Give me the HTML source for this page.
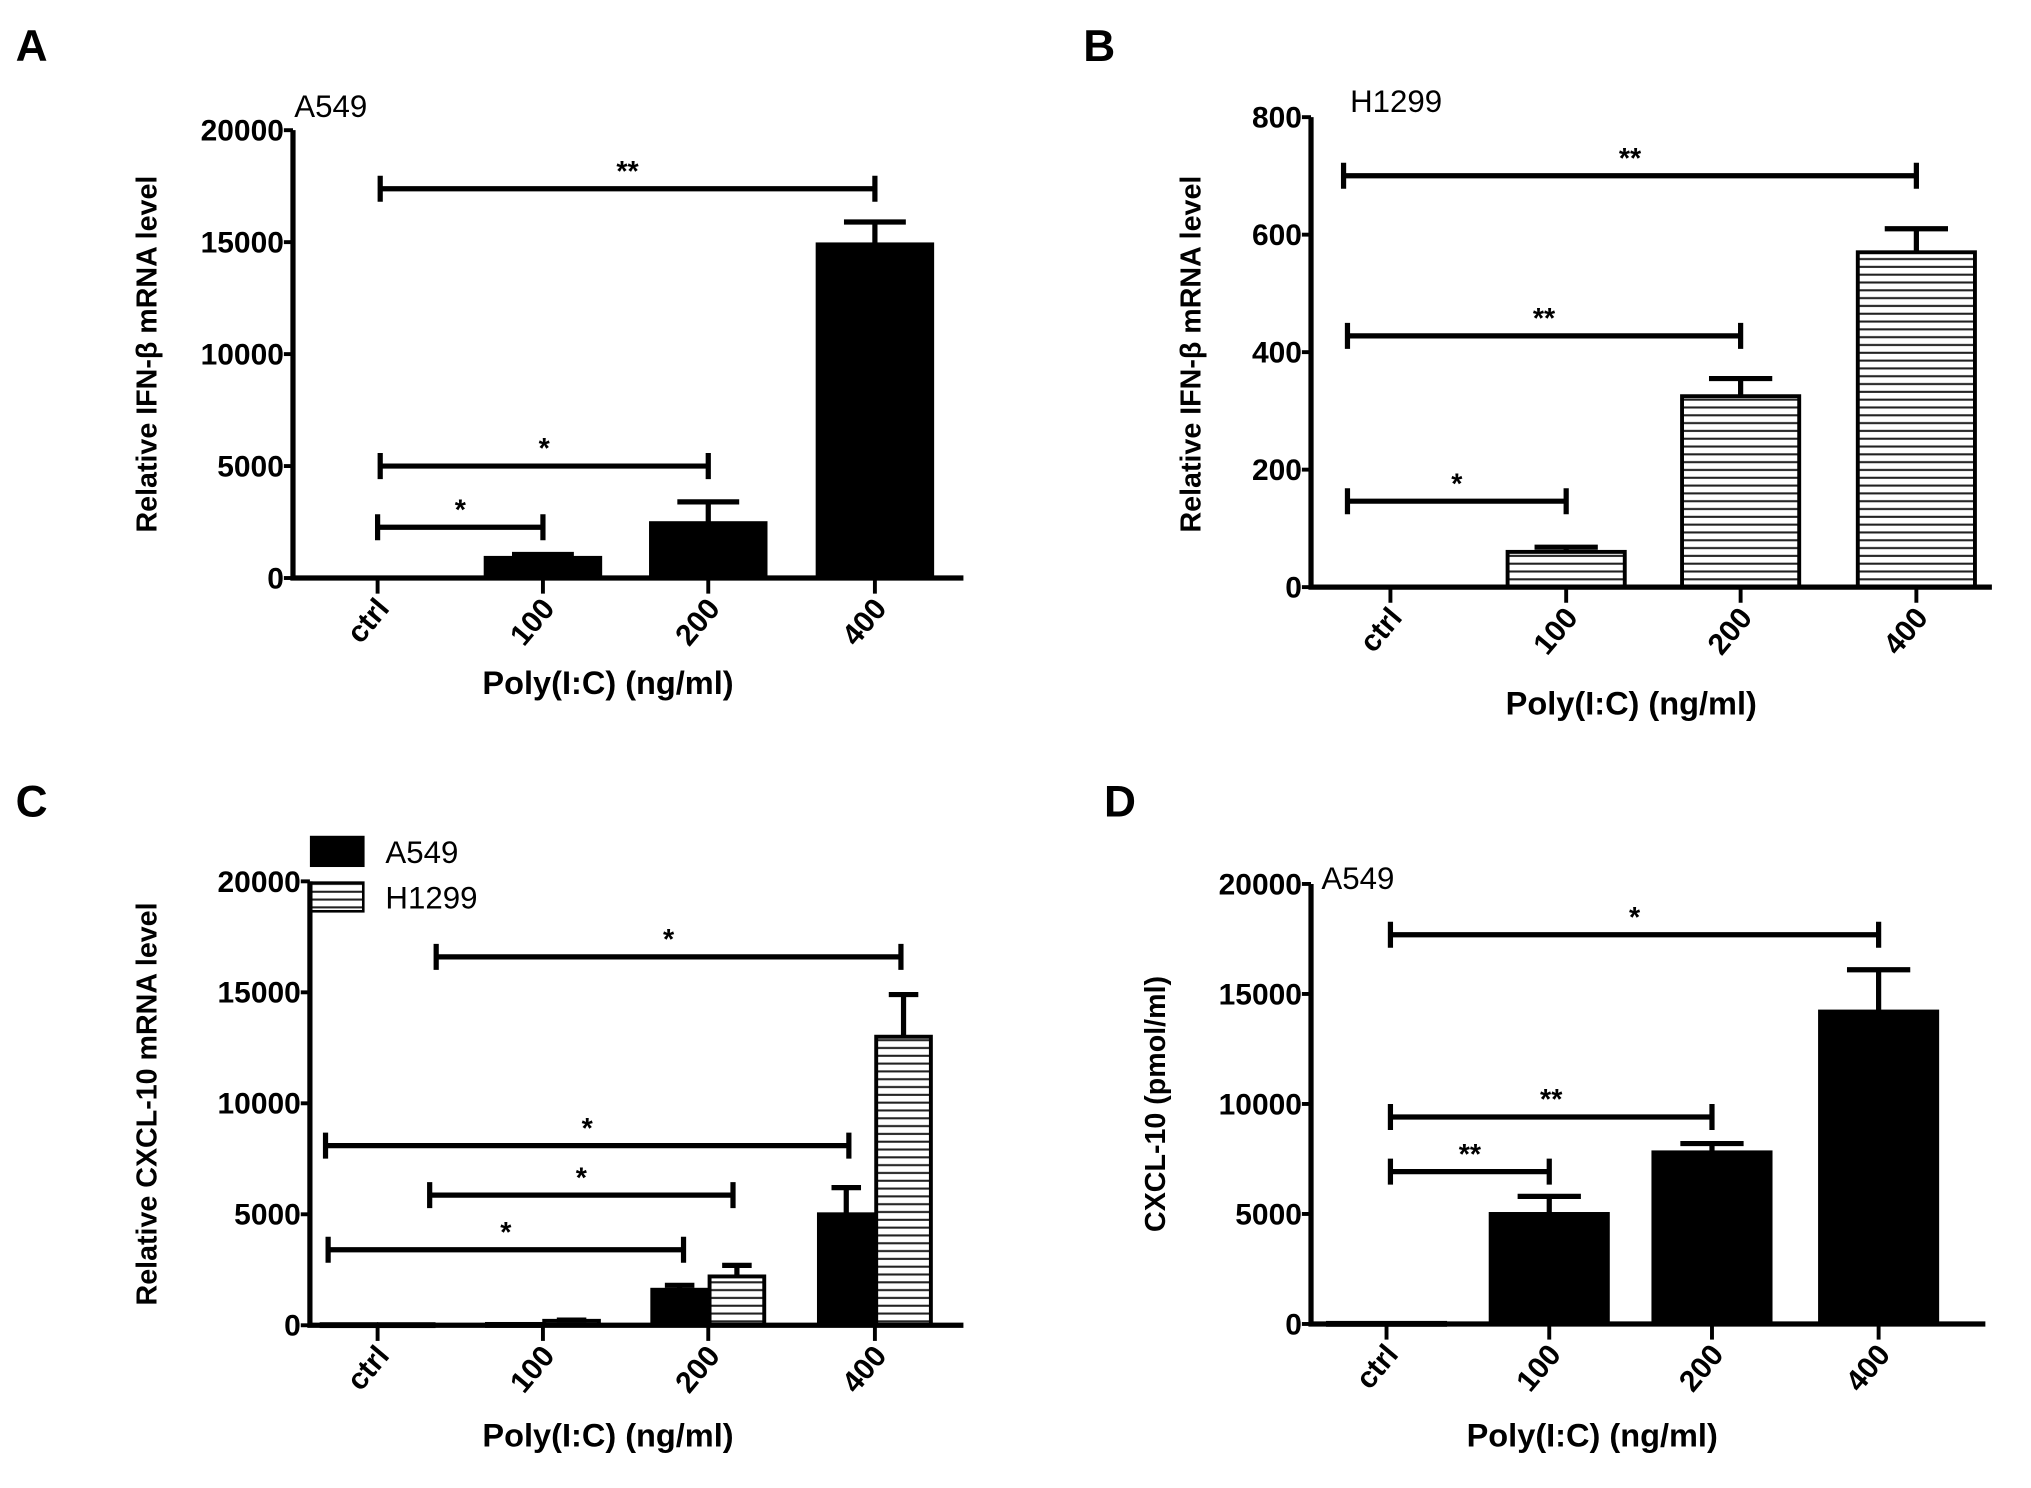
<!DOCTYPE html>
<html><head><meta charset="utf-8"><style>
html,body{margin:0;padding:0;background:#fff}
svg{display:block;font-family:"Liberation Sans",Arial,sans-serif}
</style></head><body>
<svg id="fig" width="2031" height="1488" viewBox="0 0 1560 1143" xmlns="http://www.w3.org/2000/svg">
<defs>
<pattern id="hatch" width="8" height="6" patternUnits="userSpaceOnUse">
<rect width="8" height="6" fill="#fff"/><line x1="0" y1="1" x2="8" y2="1" stroke="#222" stroke-width="1.6"/>
</pattern>
</defs>
</svg>
<script>
const categories = ["ctrl","100","200","400"];
const aValues = [0, 900, 2450, 14900];
const aErrors = [0, 150, 950, 1000];
const bValues = [0, 60, 325, 570];
const bErrors = [0, 8, 30, 40];
const cA549 = [50, 60, 1600, 5000];
const cA549Err = [0, 0, 200, 1200];
const cH1299 = [50, 200, 2200, 13000];
const cH1299Err = [0, 30, 500, 1900];
const dValues = [50, 5000, 7800, 14200];
const dErrors = [0, 800, 400, 1900];
const ticksA = [0,5000,10000,15000,20000];
const ticksB = [0,200,400,600,800];

const svg = document.getElementById('fig');
const NS = 'http://www.w3.org/2000/svg';
function mk(tag, attrs, parent){const e=document.createElementNS(NS,tag);for(const k in attrs)e.setAttribute(k,attrs[k]);(parent||svg).appendChild(e);return e;}
function txt(s, attrs, parent){const e=mk('text',attrs,parent);e.textContent=s;return e;}

function panel(cfg){
  const g = mk('g',{});
  
  
  const y = v => cfg.y0 - (v/cfg.max)*(cfg.y0-cfg.yTop);
  const L = txt(cfg.letter,{x:cfg.letterX,y:cfg.letterY,'font-size':34,'font-weight':'bold'},g);
  
  
  if(cfg.cell){const c=txt(cfg.cell,{x:cfg.cellX,y:cfg.cellY,'font-size':24},g);
    
    }
  cfg.series.forEach(s=>{
    s.values.forEach((v,i)=>{
      if(v<=0) return;
      const cx = cfg.xs[i] + s.off;
      const x0 = cx - s.w/2, top=y(v);
      const r = mk('rect',{x:x0,y:top,width:s.w,height:Math.max(cfg.y0-top,1.5),fill:s.fill,stroke:'#000','stroke-width':3},g);
      
      
      const e = s.errs[i];
      if(e>0){
        const ey=y(v+e);
        const eb = mk('path',{d:`M${cx} ${top} V${ey} M${cx-s.w*0.27} ${ey} H${cx+s.w*0.27}`,stroke:'#000','stroke-width':4,fill:'none'},g);
        
        
      }
    });
  });
  const ax = mk('path',{d:`M${cfg.x0} ${cfg.yTop} V${cfg.y0} H${cfg.xEnd}`,stroke:'#000','stroke-width':4,fill:'none'},g);
  
  
  cfg.ticks.forEach(t=>{
    const ty=y(t);
    mk('line',{x1:cfg.x0-7,y1:ty,x2:cfg.x0,y2:ty,stroke:'#000','stroke-width':3},g);
    const tl=txt(String(t),{x:cfg.x0-7,y:ty+8,'font-size':23,'font-weight':'bold','text-anchor':'end'},g);
    
    
  });
  categories.forEach((c,i)=>{
    const tx=cfg.xs[i];
    mk('line',{x1:tx,y1:cfg.y0,x2:tx,y2:cfg.y0+12,stroke:'#000','stroke-width':3},g);
    const tl=txt(c,{x:0,y:0,'font-size':23,'font-weight':'bold','text-anchor':'end',transform:`translate(${tx+10},${cfg.y0+24}) rotate(-50)`},g);
    
    
  });
  const yt=txt(cfg.ylabel,{x:0,y:0,'font-size':22,'font-weight':'bold','text-anchor':'middle',transform:`translate(${cfg.ylx},${cfg.yly}) rotate(-90)`},g);
  
  
  const xt=txt('Poly(I:C) (ng/ml)',{x:cfg.xtx,y:cfg.xty,'font-size':25,'font-weight':'bold','text-anchor':'middle'},g);
  
  
  cfg.sig.forEach(s=>{
    const [x1,x2,sy,label]=s;
    const p=mk('path',{d:`M${x1} ${sy-10} V${sy+10} M${x1} ${sy} H${x2} M${x2} ${sy-10} V${sy+10}`,stroke:'#000','stroke-width':4,fill:'none'},g);
    
    
    const st=txt(label,{x:(x1+x2)/2,y:sy-6,'font-size':22,'font-weight':'bold','text-anchor':'middle'},g);
    
    
  });
  return g;
}

panel({name:'panel-a',letter:'A',letterX:12,letterY:47,cell:'A549',cellX:226,cellY:90,
  x0:225,xEnd:740,y0:444,yTop:100,max:20000,ticks:ticksA,xs:[290,417,544,672],
  series:[{key:'a549',values:aValues,errs:aErrors,off:0,w:88,fill:'#000'}],
  ylabel:'Relative IFN-β  mRNA level',ylx:120,yly:272,xtx:467,xty:533,
  sig:[[292,672,145,'**'],[292,544,358,'*'],[290,417,405,'*']]});

panel({name:'panel-b',letter:'B',letterX:832,letterY:47,cell:'H1299',cellX:1037,cellY:86,
  x0:1007,xEnd:1530,y0:451,yTop:90,max:800,ticks:ticksB,xs:[1068,1203,1337,1472],
  series:[{key:'h1299',values:bValues,errs:bErrors,off:0,w:90,fill:'url(#hatch)'}],
  ylabel:'Relative IFN-β  mRNA level',ylx:922,yly:272,xtx:1253,xty:549,
  sig:[[1032,1472,135,'**'],[1035,1337,258,'**'],[1035,1203,385,'*']]});

panel({name:'panel-c',letter:'C',letterX:12,letterY:627,
  x0:238,xEnd:740,y0:1018,yTop:677,max:20000,ticks:ticksA,xs:[290,417,544,672],
  series:[{key:'a549',values:cA549,errs:cA549Err,off:-22,w:42,fill:'#000'},
          {key:'h1299',values:cH1299,errs:cH1299Err,off:22,w:42,fill:'url(#hatch)'}],
  ylabel:'Relative CXCL-10 mRNA level',ylx:120,yly:848,xtx:467,xty:1111,
  sig:[[335,692,735,'*'],[250,652,880,'*'],[330,563,918,'*'],[252,525,960,'*']]});

panel({name:'panel-d',letter:'D',letterX:848,letterY:627,cell:'A549',cellX:1015,cellY:683,
  x0:1007,xEnd:1525,y0:1017,yTop:679,max:20000,ticks:ticksA,xs:[1065,1190,1315,1443],
  series:[{key:'a549',values:dValues,errs:dErrors,off:0,w:90,fill:'#000'}],
  ylabel:'CXCL-10 (pmol/ml)',ylx:895,yly:848,xtx:1223,xty:1111,
  sig:[[1068,1443,718,'*'],[1068,1315,858,'**'],[1068,1190,900,'**']]});

const lg = mk('g',{});


const l1=mk('rect',{x:239,y:643,width:40,height:22,fill:'#000',stroke:'#000','stroke-width':2},lg);


const t1=txt('A549',{x:296,y:663,'font-size':24},lg);


const l2=mk('rect',{x:239,y:678,width:40,height:22,fill:'url(#hatch)',stroke:'#000','stroke-width':2},lg);


const t2=txt('H1299',{x:296,y:698,'font-size':24},lg);


</script>
</body></html>
